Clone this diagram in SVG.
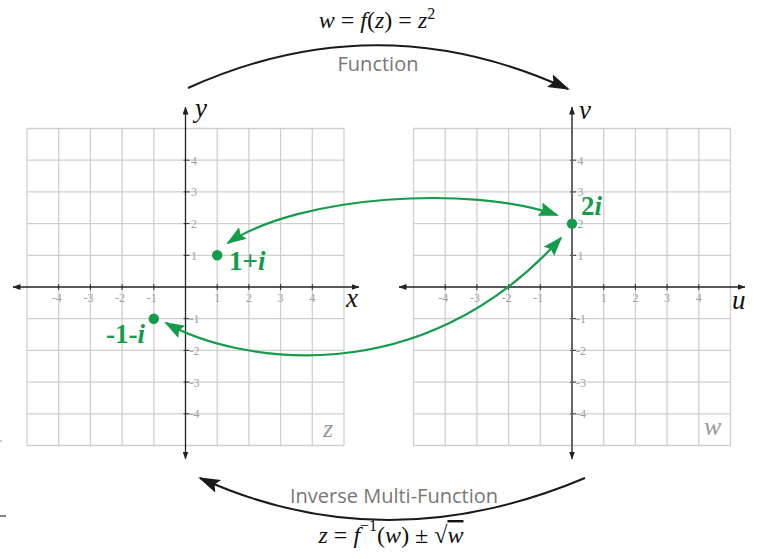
<svg xmlns="http://www.w3.org/2000/svg" width="760" height="559" viewBox="0 0 760 559">
<defs>
<marker id="ax" viewBox="0 0 8 6" refX="7.5" refY="3" markerWidth="8" markerHeight="6" markerUnits="userSpaceOnUse" orient="auto-start-reverse"><path d="M0,0L8,3L0,6z" fill="#222"/></marker>
<marker id="ga" viewBox="0 0 20 14" refX="18" refY="7" markerWidth="20" markerHeight="14" markerUnits="userSpaceOnUse" orient="auto-start-reverse"><path d="M0,0L20,7L0,14L3,7z" fill="#149c4a"/></marker>
<marker id="ba" viewBox="0 0 22 14" refX="20" refY="7" markerWidth="22" markerHeight="14" markerUnits="userSpaceOnUse" orient="auto"><path d="M0,0L22,7L0,14L4,7z" fill="#1a1a1a"/></marker>
<g id="plane">
<path fill="none" stroke="#cfcfcf" stroke-width="1.3" d="M-158.5-158.5V158.5M-126.8-158.5V158.5M-95.1-158.5V158.5M-63.4-158.5V158.5M-31.7-158.5V158.5M31.7-158.5V158.5M63.4-158.5V158.5M95.1-158.5V158.5M126.8-158.5V158.5M158.5-158.5V158.5M-158.5-158.5H158.5M-158.5-126.8H158.5M-158.5-95.1H158.5M-158.5-63.4H158.5M-158.5-31.7H158.5M-158.5 31.7H158.5M-158.5 63.4H158.5M-158.5 95.1H158.5M-158.5 126.8H158.5M-158.5 158.5H158.5"/>
<path fill="none" stroke="#333" stroke-width="1" d="M-126.8-3V3M-95.1-3V3M-63.4-3V3M-31.7-3V3M31.7-3V3M63.4-3V3M95.1-3V3M126.8-3V3M-2-126.8H4M-2-95.1H4M-2-63.4H4M-2-31.7H4M-2 31.7H4M-2 63.4H4M-2 95.1H4M-2 126.8H4"/>
<g font-family="'Liberation Serif', serif" font-size="12" fill="#a0a0a0">
<g text-anchor="end"><text x="-123.8" y="14.5">-4</text><text x="-92.1" y="14.5">-3</text><text x="-60.4" y="14.5">-2</text><text x="-28.7" y="14.5">-1</text></g>
<g text-anchor="middle"><text x="31.7" y="14.5">1</text><text x="63.4" y="14.5">2</text><text x="95.1" y="14.5">3</text><text x="126.8" y="14.5">4</text></g>
<text x="5.5" y="-122.3">4</text><text x="5.5" y="-90.6">3</text><text x="5.5" y="-58.9">2</text><text x="5.5" y="-27.2">1</text>
<text x="4" y="36.2">-1</text><text x="4" y="67.9">-2</text><text x="4" y="99.6">-3</text><text x="4" y="131.3">-4</text>
</g>
</g>
</defs>

<g id="z-plane">
<use href="#plane" x="185.5" y="287"/>
<line x1="13" y1="287" x2="359" y2="287" stroke="#222" stroke-width="1.3" marker-start="url(#ax)" marker-end="url(#ax)"/>
<line x1="185.5" y1="459" x2="185.5" y2="107" stroke="#222" stroke-width="1.3" marker-start="url(#ax)" marker-end="url(#ax)"/>
<g font-family="'Liberation Serif', serif" font-style="italic" font-size="27" fill="#111">
<text x="195" y="117">y</text>
<text x="346" y="307">x</text>
</g>
<text font-family="'Liberation Serif', serif" font-style="italic" font-size="26" fill="#999" x="323" y="437">z</text>
</g>

<g id="w-plane">
<use href="#plane" x="572" y="287"/>
<line x1="399" y1="287" x2="745" y2="287" stroke="#222" stroke-width="1.3" marker-start="url(#ax)" marker-end="url(#ax)"/>
<line x1="572" y1="459" x2="572" y2="107" stroke="#666" stroke-width="2" marker-start="url(#ax)" marker-end="url(#ax)"/>
<g font-family="'Liberation Serif', serif" font-style="italic" font-size="27" fill="#111">
<text x="579" y="119">v</text>
<text x="732" y="309">u</text>
</g>
<text font-family="'Liberation Serif', serif" font-style="italic" font-size="26" fill="#999" x="704" y="435">w</text>
</g>

<g id="connectors">
<g fill="none" stroke="#1a1a1a" stroke-width="2">
<path d="M188,88 Q378,2 568,89" marker-end="url(#ba)"/>
<path d="M585,478 Q385,562 200,478" marker-end="url(#ba)"/>
</g>
<g fill="none" stroke="#149c4a" stroke-width="2.2">
<path d="M228,243 C300,195 470,185 557,215" marker-start="url(#ga)" marker-end="url(#ga)"/>
<path d="M166,323 C235,362 420,395 561,238" marker-start="url(#ga)" marker-end="url(#ga)"/>
</g>
</g>

<g font-family="'Liberation Serif', serif" font-size="27" font-weight="bold" fill="#149c4a">
<g id="point-1pi">
<circle cx="217.2" cy="255.3" r="5.2"/>
<text x="229" y="270">1+<tspan font-style="italic">i</tspan></text>
</g>
<g id="point-m1mi">
<circle cx="153.8" cy="318.7" r="5.2"/>
<text x="145" y="343" text-anchor="end">-1-<tspan font-style="italic">i</tspan></text>
</g>
<g id="point-2i">
<circle cx="572" cy="223.6" r="5.2"/>
<text x="581" y="215">2<tspan font-style="italic">i</tspan></text>
</g>
</g>

<g id="function-label">
<text font-family="'Liberation Serif', serif" font-size="24" fill="#111" x="377" y="27.5" text-anchor="middle"><tspan font-style="italic">w</tspan> = <tspan font-style="italic">f</tspan>(<tspan font-style="italic">z</tspan>) = <tspan font-style="italic">z</tspan><tspan dy="-9" font-size="16">2</tspan></text>
<text font-family="'Open Sans', 'Noto Sans', sans-serif" font-size="20" fill="#777" x="378" y="71" text-anchor="middle">Function</text>
</g>

<g id="inverse-label">
<text font-family="'Open Sans', 'Noto Sans', sans-serif" font-size="20" fill="#777" x="394" y="503" text-anchor="middle">Inverse Multi-Function</text>
<text font-family="'Liberation Serif', serif" font-size="24" fill="#111" x="391" y="543" text-anchor="middle"><tspan font-style="italic">z</tspan> = <tspan font-style="italic">f</tspan><tspan dy="-12" font-size="16">−1</tspan><tspan dy="12">(</tspan><tspan font-style="italic">w</tspan>) ± √<tspan font-style="italic" text-decoration="overline">w</tspan></text>
</g>

<g id="edge-marks">
<line x1="0" y1="516" x2="6" y2="516" stroke="#444" stroke-width="1.3"/>
<line x1="0" y1="441" x2="2" y2="441" stroke="#999" stroke-width="1"/>
</g>
</svg>
